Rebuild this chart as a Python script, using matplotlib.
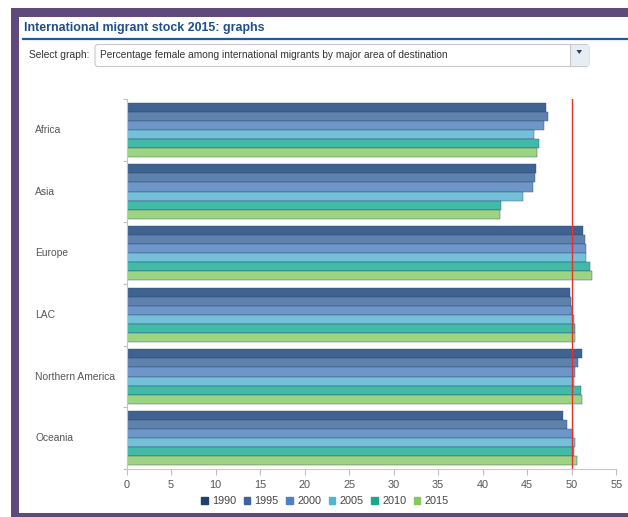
import matplotlib.pyplot as plt
import matplotlib.transforms as mtransforms
from matplotlib.patches import Patch, Rectangle, FancyBboxPatch, Polygon
import numpy as np

plt.rcParams['font.family'] = ['Liberation Sans', 'DejaVu Sans']

# percentage female among international migrants, by area of destination
regions = ["Africa", "Asia", "Europe", "LAC", "Northern America", "Oceania"]
years = ["1990", "1995", "2000", "2005", "2010", "2015"]
pct_1990 = [47.1, 46.0, 51.3, 49.8, 51.1, 49.0]
pct_1995 = [47.3, 45.9, 51.5, 49.9, 50.7, 49.5]
pct_2000 = [46.9, 45.6, 51.55, 50.05, 50.4, 50.1]
pct_2005 = [45.75, 44.55, 51.6, 50.2, 50.25, 50.4]
pct_2010 = [46.35, 42.0, 52.0, 50.35, 51.0, 50.2]
pct_2015 = [46.1, 41.95, 52.3, 50.35, 51.2, 50.6]
series = [pct_1990, pct_1995, pct_2000, pct_2005, pct_2010, pct_2015]

bar_colors = ["#34598a", "#557ba9", "#6690c6", "#6cbdd6", "#38b7a2", "#98d27a"]
legend_colors = ["#1f3f73", "#3c63a0", "#4f80c4", "#4fb5d3", "#17a98e", "#86c95c"]
purple = "#604a7b"

W, H = 628, 517
fig = plt.figure(figsize=(W / 100, H / 100), dpi=100)

# page furniture drawn in pixel space
bg = fig.add_axes([0, 0, 1, 1])
bg.set_xlim(0, W)
bg.set_ylim(H, 0)
bg.axis("off")
bg.add_patch(Rectangle((11, 8), W - 11, 9, color=purple, lw=0))
bg.add_patch(Rectangle((11, 8), 8, H - 8, color=purple, lw=0))
bg.add_patch(Rectangle((11, 513), W - 11, 4, color=purple, lw=0))
bg.plot([22, W], [39.3, 39.3], color="#1f5a9e", lw=1.6, solid_capstyle="butt")
bg.text(24, 28.5, "International migrant stock 2015: graphs", fontsize=8.9,
        fontweight="bold", color="#1f4e8c", va="center", ha="left")
bg.text(29, 55, "Select graph:", fontsize=7.4, color="#333333", va="center")
bg.add_patch(FancyBboxPatch((95, 44.5), 494, 22, boxstyle="round,pad=0,rounding_size=3",
                            fc="white", ec="#c8c8c8", lw=0.8))
bg.add_patch(Rectangle((570, 45), 18.5, 21, fc="#e6edf3", ec="none"))
bg.plot([570, 570], [45, 66], color="#c8c8c8", lw=0.8)
bg.add_patch(Polygon([[576.5, 50], [582, 50], [579.25, 54]], closed=True, fc="#2a3f5a", ec="none"))
bg.text(100, 55, "Percentage female among international migrants by major area of destination",
        fontsize=7.3, color="#333333", va="center")

# chart area
ax = fig.add_axes([126.5 / W, (H - 469) / H, 489.8 / W, 370 / H])
n = len(years)
h = 0.146
y = np.arange(len(regions))
for i, (vals, c) in enumerate(zip(series, bar_colors)):
    ax.barh(y + (i - (n - 1) / 2) * h, vals, height=h, color=c,
            edgecolor="#2b4a6e", linewidth=0.3, alpha=0.95, zorder=2)

ax.axvline(50, color="#e8302a", lw=1, zorder=3)
ax.set_xlim(0, 55)
ax.set_ylim(len(regions) - 0.5, -0.5)
ax.set_xticks(np.arange(0, 56, 5))
ax.set_yticks(np.arange(-0.5, len(regions), 1))
ax.set_yticklabels([])
ax.tick_params(axis="x", colors="#b8c0cc", length=4, width=0.8, labelsize=7.8,
               labelcolor="#555555", pad=4)
ax.tick_params(axis="y", colors="#b8c0cc", length=3, width=0.8)
for s in ["top", "right"]:
    ax.spines[s].set_visible(False)
ax.spines["left"].set_color("#c0c4cc")
ax.spines["bottom"].set_color("#c0c8d8")

trans = mtransforms.blended_transform_factory(fig.transFigure, ax.transData)
for yi, name in zip(y, regions):
    ax.text(35 / W, yi, name, transform=trans, fontsize=7.4, color="#555555",
            va="center", ha="left")

handles = [Patch(color=c, label=yr) for c, yr in zip(legend_colors, years)]
fig.legend(handles=handles, loc="center", bbox_to_anchor=(325 / W, (H - 501.5) / H),
           ncol=6, frameon=False, fontsize=7.8, handlelength=0.6, handleheight=0.6,
           handletextpad=0.4, columnspacing=0.7, labelcolor="#444444")

fig.savefig("out.png", dpi=100)
